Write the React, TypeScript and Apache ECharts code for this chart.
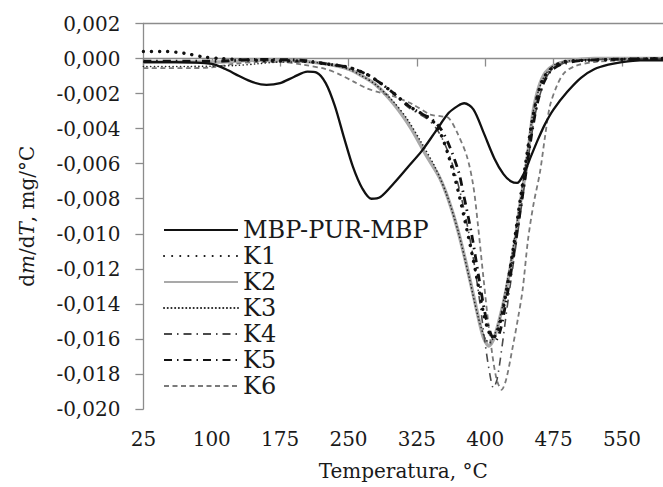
import { useEffect, useRef } from "react";
import * as echarts from "echarts";

// Axis settings
const xMin = 25;
const xMax = 595;
const xStep = 75;
const yMin = -0.02;
const yMax = 0.002;
const yStep = 0.002;

const legendNames = ["MBP-PUR-MBP", "K1", "K2", "K3", "K4", "K5", "K6"];

// MBP-PUR-MBP
const mbpT = [25, 60, 100, 115, 130, 145, 160, 175, 190, 205, 215, 225, 235, 245, 255, 265, 275, 285, 300, 315, 330, 345, 360, 370, 377, 387, 398, 410, 420, 428, 435, 442, 450, 458, 466, 475, 490, 505, 520, 535, 550, 570, 595];
const mbpV = [-0.0002, -0.0002, -0.0003, -0.0006, -0.001, -0.00135, -0.0015, -0.0014, -0.00105, -0.00075, -0.0008, -0.0014, -0.0027, -0.0045, -0.0062, -0.0074, -0.008, -0.0079, -0.0071, -0.0062, -0.0053, -0.0042, -0.0031, -0.0027, -0.00255, -0.0029, -0.0042, -0.0057, -0.0066, -0.007, -0.0071, -0.0066, -0.0056, -0.0046, -0.0037, -0.0029, -0.0019, -0.0011, -0.0006, -0.00035, -0.0002, -0.0001, -0.0001];

// K1
const k1T = [25, 50, 70, 90, 110, 150, 200, 225, 250, 270, 285, 300, 316, 332, 343, 352, 360, 370, 380, 390, 398, 404, 409, 414, 420, 426, 432, 438, 444, 450, 456, 463, 472, 485, 510, 595];
const k1V = [0.0004, 0.0004, 0.0003, 0.0001, 0.0, -0.0001, -0.00015, -0.0003, -0.0005, -0.0009, -0.0014, -0.002, -0.0027, -0.0032, -0.0036, -0.0044, -0.0056, -0.0075, -0.0098, -0.0123, -0.0145, -0.0156, -0.0159, -0.0155, -0.0142, -0.0124, -0.0104, -0.0082, -0.0061, -0.004, -0.0024, -0.0012, -0.0006, -0.0002, -0.0001, 0.0];

// K2
const k2T = [25, 100, 150, 200, 225, 250, 265, 280, 295, 310, 320, 335, 350, 360, 370, 380, 390, 398, 404, 410, 417, 423, 428, 433, 438, 444, 449, 453, 459, 466, 475, 490, 520, 595];
const k2V = [-0.0002, -0.0002, -0.0001, -0.00015, -0.0003, -0.0006, -0.001, -0.0015, -0.0023, -0.0033, -0.0041, -0.0055, -0.0068, -0.0081, -0.0098, -0.0119, -0.0142, -0.0159, -0.0164, -0.0159, -0.0146, -0.0132, -0.0118, -0.0103, -0.0084, -0.0065, -0.0045, -0.0029, -0.0016, -0.0008, -0.0004, -0.00015, 0.0, 0.0];

// K3
const k3T = [25, 75, 125, 150, 175, 200, 225, 250, 265, 280, 300, 315, 330, 345, 358, 370, 382, 392, 400, 405, 410, 417, 423, 429, 435, 441, 447, 452, 458, 465, 475, 490, 520, 595];
const k3V = [-0.00045, -0.00045, -0.0004, -0.0003, -0.0002, -0.0002, -0.0003, -0.0006, -0.001, -0.0015, -0.0025, -0.0035, -0.0048, -0.0062, -0.0078, -0.0098, -0.0124, -0.0147, -0.016, -0.0162, -0.0158, -0.0146, -0.013, -0.0113, -0.0093, -0.0072, -0.005, -0.0032, -0.0019, -0.001, -0.0004, -0.00015, -0.00005, 0.0];

// K4
const k4T = [25, 100, 150, 200, 225, 250, 270, 285, 300, 316, 335, 345, 355, 365, 375, 385, 393, 400, 405, 409, 413, 418, 424, 430, 436, 442, 448, 454, 461, 469, 480, 500, 595];
const k4V = [-0.0002, -0.0002, -0.0001, -0.00015, -0.0003, -0.0005, -0.0009, -0.0014, -0.002, -0.0028, -0.0034, -0.0039, -0.0048, -0.0062, -0.0082, -0.0108, -0.0135, -0.0163, -0.018, -0.0188, -0.0183, -0.0166, -0.0142, -0.012, -0.0098, -0.0076, -0.0054, -0.0034, -0.0019, -0.0009, -0.0004, -0.0001, 0.0];

// K5
const k5T = [25, 100, 150, 200, 225, 250, 270, 285, 300, 316, 332, 340, 351, 360, 371, 376, 385, 393, 400, 406, 411, 416, 421, 427, 433, 439, 445, 451, 457, 464, 472, 485, 510, 595];
const k5V = [-0.00015, -0.00015, -0.00005, -0.0001, -0.0003, -0.0005, -0.0009, -0.0014, -0.002, -0.0027, -0.0032, -0.0034, -0.004, -0.0049, -0.0065, -0.0077, -0.01, -0.0125, -0.0146, -0.0157, -0.0161, -0.0156, -0.0144, -0.0126, -0.0106, -0.0085, -0.0064, -0.0043, -0.0026, -0.0014, -0.0007, -0.0003, -0.0001, 0.0];

// K6
const k6T = [25, 75, 100, 125, 150, 175, 200, 225, 240, 255, 270, 285, 302, 320, 340, 352, 360, 369, 380, 387, 392, 398, 405, 412, 418, 423, 430, 436, 441, 447, 453, 460, 466, 471, 479, 487, 500, 520, 550, 595];
const k6V = [-0.00055, -0.00055, -0.0005, -0.0003, -0.0002, -0.0002, -0.00035, -0.0006, -0.0009, -0.0013, -0.0017, -0.00195, -0.0022, -0.0026, -0.0032, -0.0033, -0.0034, -0.0042, -0.0056, -0.0073, -0.0095, -0.0125, -0.0158, -0.0182, -0.0189, -0.0183, -0.0165, -0.0148, -0.0132, -0.0103, -0.0083, -0.0065, -0.0043, -0.0027, -0.0015, -0.0008, -0.0004, -0.0002, -0.0001, 0.0];

const FONT = "'DejaVu Serif', 'Liberation Serif', serif";
const TEXT = "#1a1a1a";
const AXIS = "#8c8c8c";

function pairs(T: number[], V: number[]) {
  return T.map((t, i) => [t, V[i]]);
}

function fmtY(v: number) {
  if (Math.abs(v) < 1e-9) return "0,000";
  return v.toFixed(3).replace(".", ",");
}

export default function App() {
  const ref = useRef<HTMLDivElement>(null);
  useEffect(() => {
    const chart = echarts.init(ref.current!, null, { renderer: "svg" });
    const mk = (name: string, T: number[], V: number[], lineStyle: any, z: number) => ({
      name,
      type: "line",
      data: pairs(T, V),
      symbol: "none",
      showSymbol: false,
      smooth: 0.3,
      lineStyle,
      z,
      silent: true,
    });
    chart.setOption({
      animation: false,
      backgroundColor: "#ffffff",
      grid: { left: 143.4, right: 0, top: 23.5, bottom: 78, containLabel: false },
      legend: {
        data: legendNames,
        orient: "vertical",
        left: 163,
        top: 217,
        padding: 0,
        itemWidth: 74,
        itemHeight: 14,
        itemGap: 0,
        selectedMode: false,
        itemStyle: { opacity: 0, borderWidth: 0 },
        textStyle: { fontFamily: FONT, fontSize: 24, lineHeight: 26, color: TEXT },
      },
      xAxis: [
        {
          type: "value",
          min: xMin,
          max: xMax,
          interval: xStep,
          axisLine: { show: true, lineStyle: { color: AXIS, width: 1.3 } },
          axisTick: { show: true, length: 8, lineStyle: { color: AXIS, width: 1.3 } },
          splitLine: { show: false },
          axisLabel: {
            margin: 20,
            fontFamily: FONT,
            fontSize: 20,
            color: TEXT,
            showMaxLabel: false,
          },
          name: "Temperatura, °C",
          nameLocation: "middle",
          nameGap: 52,
          nameTextStyle: { fontFamily: FONT, fontSize: 20, color: TEXT },
        },
        {
          type: "value",
          position: "top",
          min: xMin,
          max: xMax,
          axisLine: { show: true, lineStyle: { color: AXIS, width: 1.3 } },
          axisTick: { show: false },
          axisLabel: { show: false },
          splitLine: { show: false },
        },
      ],
      yAxis: {
        type: "value",
        min: yMin,
        max: yMax,
        interval: yStep,
        axisLine: { show: true, lineStyle: { color: AXIS, width: 1.3 } },
        axisTick: { show: true, length: 8, lineStyle: { color: AXIS, width: 1.3 } },
        splitLine: { show: false },
        axisLabel: { margin: 23, fontFamily: FONT, fontSize: 20, color: TEXT, formatter: fmtY },
        name: "d{i|m}/d{i|T}, mg/°C",
        nameLocation: "middle",
        nameGap: 106,
        nameTextStyle: {
          fontFamily: FONT,
          fontSize: 20,
          color: TEXT,
          rich: { i: { fontFamily: FONT, fontSize: 20, fontStyle: "italic", color: TEXT } },
        },
      },
      series: [
        mk("K2", k2T, k2V, { color: "#a9a9a9", width: 3.5 }, 2),
        mk("K6", k6T, k6V, { color: "#7a7a7a", width: 1.8, type: [5, 3.5] }, 3),
        mk("K3", k3T, k3V, { color: "#222222", width: 1.6, type: [0.1, 3.6], cap: "round" }, 4),
        mk("K4", k4T, k4V, { color: "#4a4a4a", width: 1.6, type: [8, 5, 1.5, 5] }, 5),
        mk("K5", k5T, k5V, { color: "#111111", width: 2.8, type: [8, 5, 1.5, 5] }, 6),
        mk("K1", k1T, k1V, { color: "#111111", width: 3.4, type: [0.1, 8], cap: "round" }, 7),
        mk("MBP-PUR-MBP", mbpT, mbpV, { color: "#111111", width: 2.3 }, 8),
      ],
    });
    return () => chart.dispose();
  }, []);
  return (
    <div
      ref={ref}
      style={{ position: "fixed", left: 0, top: 0, width: 663, height: 487, background: "#ffffff" }}
    />
  );
}
